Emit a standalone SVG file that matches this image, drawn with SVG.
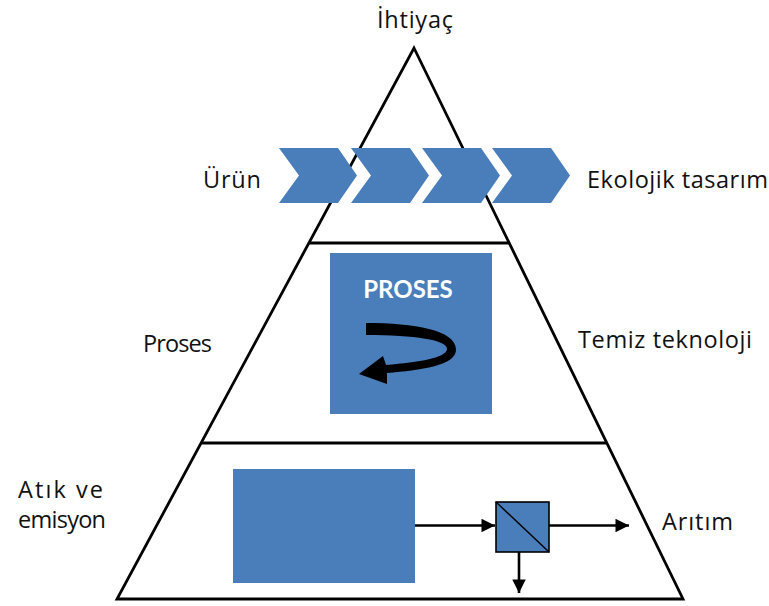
<svg xmlns="http://www.w3.org/2000/svg" width="769" height="606" viewBox="0 0 769 606">
  <defs>
    <style>
      .lbl { font-family: "Open Sans", Lato, "Liberation Sans", sans-serif; font-size: 23.5px; fill: #111; }
      .edge { fill: none; stroke: #000; stroke-width: 2.8; }
      .blue { fill: #4a7ebb; }
      .conn { fill: none; stroke: #000; stroke-width: 2.6; }
    </style>
    <path id="chev" d="M0,0 H59 L78,27.5 L59,55 H0 L20,27.5 Z"/>
    <marker id="head" viewBox="0 0 10 10" refX="10" refY="5" markerWidth="7" markerHeight="5.2" markerUnits="strokeWidth" orient="auto">
      <path d="M0,0 L10,5 L0,10 Z" fill="#000"/>
    </marker>
  </defs>

  <rect width="769" height="606" fill="#fff"/>

  <!-- pyramid outline and tier dividers -->
  <g id="pyramid">
    <path class="edge" d="M414,48 L683,599 L117,599 Z" stroke-linejoin="miter"/>
    <line class="edge" x1="309" y1="243" x2="510" y2="243"/>
    <line class="edge" x1="202" y1="443" x2="606" y2="443"/>
  </g>

  <text class="lbl" x="377" y="28" textLength="76">İhtiyaç</text>

  <!-- product chain -->
  <g id="chevrons" class="blue">
    <use href="#chev" x="279" y="148"/>
    <use href="#chev" x="351" y="148"/>
    <use href="#chev" x="422" y="148"/>
    <use href="#chev" x="492" y="148"/>
  </g>
  <text class="lbl" x="203" y="188" textLength="58">Ürün</text>
  <text class="lbl" x="587" y="188" textLength="181">Ekolojik tasarım</text>

  <!-- process block -->
  <g id="proses">
    <rect class="blue" x="330" y="253" width="162" height="161"/>
    <text x="408" y="298" text-anchor="middle" font-family="Lato, 'Open Sans', 'Liberation Sans', sans-serif" font-weight="bold" font-size="24" fill="#fff">PROSES</text>
    <path fill="#000" d="M366,323 C415,323 455,330 456,349 C457,366 420,370 387,373 L387,384 L359,374 L383,356 L386,365 C420,362 446,358 447,349 C447,340 415,335 366,335 Z"/>
  </g>
  <text class="lbl" x="143" y="352" textLength="69">Proses</text>
  <text class="lbl" x="578" y="348" textLength="174">Temiz teknoloji</text>

  <!-- waste and treatment -->
  <g id="waste">
    <rect class="blue" x="233" y="469" width="182" height="114"/>
  </g>
  <g id="treatment">
    <rect class="blue" x="496" y="502" width="53" height="50" stroke="#000" stroke-width="1.6"/>
    <line x1="496" y1="502" x2="549" y2="552" stroke="#000" stroke-width="1.4"/>
  </g>
  <g id="connectors">
    <line class="conn" x1="415" y1="525.5" x2="495" y2="525.5" marker-end="url(#head)"/>
    <line class="conn" x1="549" y1="525.5" x2="629" y2="525.5" marker-end="url(#head)"/>
    <line class="conn" x1="519" y1="552" x2="519" y2="593" marker-end="url(#head)"/>
  </g>

  <text class="lbl" x="18" y="498" textLength="85">Atık ve</text>
  <text class="lbl" x="18" y="528" textLength="88">emisyon</text>
  <text class="lbl" x="662" y="530" textLength="71">Arıtım</text>
</svg>
